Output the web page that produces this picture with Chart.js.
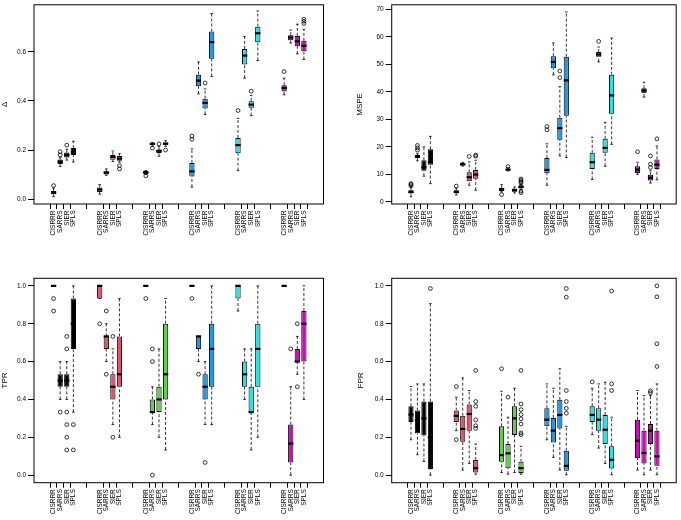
<!DOCTYPE html>
<html>
<head>
<meta charset="utf-8">
<script src="https://cdn.jsdelivr.net/npm/chart.js@4.4.1/dist/chart.umd.min.js"></script>
<style>
  body { margin: 0; background: #fff; }
  #wrap { position: relative; width: 681px; height: 520px; }
  canvas { position: absolute; }
</style>
</head>
<body>
<div id="wrap">
  <canvas id="deltaChart" width="340" height="260" style="left:0;top:0"></canvas>
  <canvas id="mspeChart" width="341" height="260" style="left:340px;top:0"></canvas>
  <canvas id="tprChart" width="340" height="260" style="left:0;top:260px"></canvas>
  <canvas id="fprChart" width="341" height="260" style="left:340px;top:260px"></canvas>
</div>
<script>
// =====================
// Boxplots - 4 paineis
// =====================

const methods = ["CISRRR", "SARRS", "SIER", "SPLS"];
const groupColors = ["#000000", "#DF536B", "#61D04F", "#2297E6", "#28E2E5", "#CD0BBC"];
// posicoes no eixo x (4 metodos por grupo, 3 espacos entre grupos)
const positions = [1, 2, 3, 4, 8, 9, 10, 11, 15, 16, 17, 18, 22, 23, 24, 25, 29, 30, 31, 32, 36, 37, 38, 39];

// [bigode inf, Q1, mediana, Q3, bigode sup]
const deltaBox = [
    [0.01, 0.02, 0.027, 0.033, 0.045], [0.133, 0.143, 0.152, 0.161, 0.169], [0.159, 0.17, 0.18, 0.19, 0.203], [0.151, 0.18, 0.193, 0.208, 0.236],
    [0.02, 0.029, 0.039, 0.047, 0.059], [0.097, 0.1, 0.108, 0.113, 0.123], [0.153, 0.16, 0.172, 0.18, 0.196], [0.151, 0.156, 0.165, 0.176, 0.185],
    [0.1, 0.103, 0.108, 0.115, 0.117], [0.215, 0.22, 0.225, 0.229, 0.231], [0.175, 0.188, 0.197, 0.2, 0.215], [0.215, 0.219, 0.226, 0.231, 0.238],
    [0.049, 0.092, 0.113, 0.147, 0.205], [0.429, 0.46, 0.483, 0.507, 0.559], [0.345, 0.369, 0.392, 0.409, 0.449], [0.5, 0.572, 0.64, 0.683, 0.756],
    [0.116, 0.187, 0.22, 0.249, 0.329], [0.493, 0.549, 0.585, 0.612, 0.663], [0.34, 0.372, 0.385, 0.399, 0.423], [0.565, 0.639, 0.676, 0.703, 0.767],
    [0.425, 0.439, 0.453, 0.464, 0.493], [0.636, 0.647, 0.659, 0.668, 0.689], [0.592, 0.623, 0.643, 0.665, 0.713], [0.569, 0.603, 0.625, 0.645, 0.692],
];
const deltaOut = [
    [0.055], [0.18, 0.193], [0.22], [],
    [], [], [], [0.136, 0.123],
    [0.095], [0.208], [0.225], [0.2],
    [0.257, 0.244], [], [0.473], [],
    [0.361], [], [0.44], [],
    [0.52], [], [], [0.716, 0.725, 0.733],
];

const mspeBox = [
    [1.8, 3.0, 3.6, 4.2, 5.4], [14.9, 15.9, 16.4, 17.0, 17.5], [9.3, 11.3, 12.5, 15.1, 20.0], [6.6, 13.5, 14.5, 19.1, 23.8],
    [2.5, 3.0, 3.6, 4.2, 5.0], [13.0, 13.2, 13.6, 14.1, 14.3], [6.0, 7.5, 8.9, 10.7, 14.5], [4.2, 8.4, 9.9, 11.6, 15.1],
    [3.6, 3.9, 4.5, 5.0, 6.3], [11.2, 11.4, 11.7, 12.0, 12.4], [3.2, 3.6, 4.2, 4.8, 5.4], [4.4, 4.8, 5.4, 6.0, 6.3],
    [6.0, 10.4, 11.6, 15.9, 21.1], [46.2, 48.6, 50.9, 53.0, 57.8], [16.7, 22.6, 26.8, 30.6, 41.9], [16.1, 31.3, 44.2, 52.8, 69.1],
    [8.1, 11.9, 14.4, 17.8, 23.5], [50.9, 52.8, 53.6, 54.5, 56.3], [12.9, 17.8, 19.6, 22.9, 28.9], [20.9, 32.0, 38.7, 46.2, 59.6],
    [9.9, 10.5, 11.7, 12.9, 14.4], [38.1, 39.5, 40.5, 41.3, 43.5], [6.8, 7.75, 8.7, 9.8, 11.3], [8.0, 11.9, 13.5, 15.4, 20.3],
];
const mspeOut = [
    [5.8, 6.3, 6.6], [18.8, 19.6, 20.5], [], [],
    [5.7], [], [16.5], [16.6, 17.0],
    [2.6], [12.8], [], [3.3, 3.9, 6.8, 7.3, 7.8, 8.3],
    [26.2, 27.4], [], [45.2, 47.6], [],
    [], [58.4], [], [],
    [18.2], [], [12.5, 13.7, 16.7], [22.9],
];

const tprBox = [
    [1, 1, 1, 1, 1], [0.4, 0.467, 0.5, 0.533, 0.6], [0.4, 0.467, 0.5, 0.533, 0.6], [0.333, 0.667, 0.8, 0.933, 1.0],
    [0.933, 0.933, 1, 1, 1], [0.6, 0.667, 0.733, 0.733, 0.8], [0.267, 0.4, 0.467, 0.533, 0.667], [0.2, 0.467, 0.533, 0.733, 0.933],
    [1, 1, 1, 1, 1], [0.267, 0.333, 0.333, 0.4, 0.467], [0.2, 0.333, 0.4, 0.467, 0.667], [0.133, 0.4, 0.533, 0.8, 0.933],
    [1, 1, 1, 1, 1], [0.6, 0.667, 0.733, 0.733, 0.733], [0.267, 0.4, 0.467, 0.533, 0.6], [0.267, 0.467, 0.667, 0.8, 1.0],
    [0.867, 0.933, 1, 1, 1], [0.4, 0.467, 0.533, 0.6, 0.667], [0.133, 0.333, 0.333, 0.467, 0.667], [0.2, 0.467, 0.667, 0.8, 1.0],
    [1, 1, 1, 1, 1], [0, 0.067, 0.167, 0.267, 0.467], [0.533, 0.6, 0.6, 0.667, 0.733], [0.4, 0.6, 0.8, 0.867, 1.0],
];
const tprOut = [
    [0.933, 0.867], [0.333], [0.733, 0.667, 0.333, 0.267, 0.2, 0.133], [0.267, 0.133],
    [0.8], [0.867, 0.533], [0.733, 0.2], [],
    [0.933], [0.667, 0.6, 0], [], [],
    [0.933], [0.533], [0.067], [],
    [], [], [], [],
    [], [0.667], [0.8, 0.467], [],
];

const fprBox = [
    [0.187, 0.281, 0.32, 0.364, 0.468], [0.108, 0.221, 0.29, 0.341, 0.482], [0.072, 0.21, 0.3, 0.389, 0.482], [0.0, 0.032, 0.2, 0.389, 0.906],
    [0.235, 0.281, 0.313, 0.341, 0.412], [0.027, 0.177, 0.244, 0.314, 0.514], [0.062, 0.235, 0.323, 0.373, 0.447], [0.005, 0.014, 0.037, 0.08, 0.164],
    [0.014, 0.071, 0.106, 0.258, 0.443], [0.005, 0.037, 0.115, 0.164, 0.306], [0.014, 0.212, 0.3, 0.364, 0.459], [0.005, 0.011, 0.037, 0.071, 0.152],
    [0.187, 0.258, 0.293, 0.353, 0.482], [0.094, 0.173, 0.235, 0.302, 0.459], [0.027, 0.247, 0.318, 0.398, 0.562], [0.002, 0.023, 0.049, 0.129, 0.258],
    [0.214, 0.281, 0.318, 0.364, 0.459], [0.143, 0.235, 0.293, 0.353, 0.482], [0.062, 0.164, 0.24, 0.318, 0.491], [0.002, 0.035, 0.081, 0.152, 0.306],
    [0.027, 0.09, 0.182, 0.292, 0.447], [0.002, 0.062, 0.117, 0.235, 0.42], [0.027, 0.164, 0.235, 0.27, 0.42], [0.002, 0.049, 0.099, 0.235, 0.482],
];
const fprOut = [
    [], [], [], [0.986],
    [0.468, 0.187], [], [], [0.553, 0.389, 0.364, 0.292, 0.261, 0.247],
    [0.562], [0.412], [], [0.553, 0.376, 0.346, 0.32, 0.297, 0.27, 0.223, 0.214],
    [], [], [], [0.986, 0.94, 0.447, 0.389, 0.353, 0.327],
    [0.493], [], [], [0.973, 0.482, 0.447],
    [], [], [0.435, 0.445], [1.0, 0.942, 0.694, 0.574],
];

const deltaTicks = [0, 0.2, 0.4, 0.6];
const mspeTicks = [0, 10, 20, 30, 40, 50, 60, 70];
const rateTicks = [0, 0.2, 0.4, 0.6, 0.8, 1.0];

const FONT = "'Liberation Sans', Arial, sans-serif";

// === plugin: bigodes, medianas e moldura ===
const boxParts = {
    id: "boxParts",
    beforeDatasetsDraw(chart, args, opts) {
        const ctx = chart.ctx;
        const y = chart.scales.y;
        const meta = chart.getDatasetMeta(0);
        ctx.save();
        ctx.strokeStyle = "#000";
        ctx.lineWidth = 0.8;
        opts.stats.forEach((s, i) => {
            const bar = meta.data[i];
            const cx = bar.x;
            const w = bar.width;
            ctx.setLineDash([3, 2]);
            ctx.beginPath();
            ctx.moveTo(cx, y.getPixelForValue(s[0]));
            ctx.lineTo(cx, y.getPixelForValue(s[1]));
            ctx.moveTo(cx, y.getPixelForValue(s[3]));
            ctx.lineTo(cx, y.getPixelForValue(s[4]));
            ctx.stroke();
            ctx.setLineDash([]);
            ctx.beginPath();
            [s[0], s[4]].forEach(v => {
                const py = y.getPixelForValue(v);
                ctx.moveTo(cx - w / 4, py);
                ctx.lineTo(cx + w / 4, py);
            });
            ctx.stroke();
        });
        ctx.restore();
    },
    afterDatasetsDraw(chart, args, opts) {
        const ctx = chart.ctx;
        const y = chart.scales.y;
        const meta = chart.getDatasetMeta(0);
        ctx.save();
        ctx.strokeStyle = "#000";
        ctx.lineWidth = 2.2;
        opts.stats.forEach((s, i) => {
            const bar = meta.data[i];
            const py = y.getPixelForValue(s[2]);
            ctx.beginPath();
            ctx.moveTo(bar.x - bar.width / 2, py);
            ctx.lineTo(bar.x + bar.width / 2, py);
            ctx.stroke();
        });
        ctx.restore();
    },
    afterDraw(chart) {
        const a = chart.chartArea;
        const ctx = chart.ctx;
        ctx.save();
        ctx.strokeStyle = "#000";
        ctx.lineWidth = 1;
        ctx.strokeRect(a.left, a.top, a.right - a.left, a.bottom - a.top);
        ctx.restore();
    },
};

function makePanel(id, stats, outs, yMin, yMax, yTicks, digits, title, lay) {
    const outPoints = [];
    outs.forEach((list, i) => list.forEach(v => outPoints.push({ x: positions[i], y: v })));
    const colors = positions.map((p, i) => groupColors[Math.floor(i / 4)]);

    new Chart(document.getElementById(id).getContext("2d"), {
        type: "bar",
        data: {
            datasets: [{
                data: stats.map((s, i) => ({ x: positions[i], y: [s[1], s[3]] })),
                backgroundColor: colors,
                borderColor: "#000",
                borderWidth: 1,
                borderSkipped: false,
                categoryPercentage: 1,
                barPercentage: 0.8,
            }, {
                type: "scatter",
                data: outPoints,
                pointStyle: "circle",
                pointRadius: 1.9,
                borderColor: "#000",
                backgroundColor: "rgba(0,0,0,0)",
                borderWidth: 0.8,
            }, ],
        },
        options: {
            responsive: false,
            animation: false,
            layout: { padding: { top: lay.top, right: lay.right, left: 0, bottom: 0 } },
            scales: {
                x: {
                    type: "linear",
                    min: -1.06,
                    max: 41.06,
                    afterBuildTicks: axis => { axis.ticks = positions.map(v => ({ value: v })); },
                    afterFit: axis => { axis.height = lay.xH; axis.paddingLeft = 0; axis.paddingRight = 0; },
                    ticks: {
                        autoSkip: false,
                        minRotation: 90,
                        maxRotation: 90,
                        padding: 1.5,
                        color: "#000",
                        font: { family: FONT, size: 6.5 },
                        callback: (v, i) => methods[i % 4],
                    },
                    grid: { display: true, drawOnChartArea: false, drawTicks: true, tickLength: 5, color: "#000" },
                    border: { display: false },
                },
                y: {
                    min: yMin,
                    max: yMax,
                    afterBuildTicks: axis => { axis.ticks = yTicks.map(v => ({ value: v })); },
                    afterFit: axis => { axis.width = lay.yW; axis.paddingTop = 0; axis.paddingBottom = 0; },
                    ticks: {
                        padding: 2,
                        color: "#000",
                        font: { family: FONT, size: 6.5 },
                        callback: v => v.toFixed(digits),
                    },
                    grid: { display: true, drawOnChartArea: false, drawTicks: true, tickLength: 6, color: "#000" },
                    border: { display: false },
                    title: {
                        display: true,
                        text: title,
                        color: "#000",
                        font: { family: FONT, size: 8 },
                        padding: { top: lay.tp, bottom: 0 },
                    },
                },
            },
            plugins: {
                legend: { display: false },
                tooltip: { enabled: false },
                boxParts: { stats: stats },
            },
        },
        plugins: [boxParts],
    });
}

// === Delta ===
makePanel("deltaChart", deltaBox, deltaOut, -0.02, 0.792, deltaTicks, 1, "Δ",
    { top: 1, right: 16.5, xH: 56, yW: 34, tp: 0 });
// === MSPE ===
makePanel("mspeChart", mspeBox, mspeOut, -0.82, 71.7, mspeTicks, 0, "MSPE",
    { top: 1, right: 0.5, xH: 56, yW: 51.7, tp: 15 });
// === TPR ===
makePanel("tprChart", tprBox, tprOut, -0.04, 1.04, rateTicks, 1, "TPR",
    { top: 18.3, right: 16.5, xH: 37.3, yW: 34, tp: 0 });
// === FPR ===
makePanel("fprChart", fprBox, fprOut, -0.04, 1.04, rateTicks, 1, "FPR",
    { top: 18.3, right: 0.5, xH: 37.3, yW: 51.7, tp: 16 });
</script>
</body>
</html>
